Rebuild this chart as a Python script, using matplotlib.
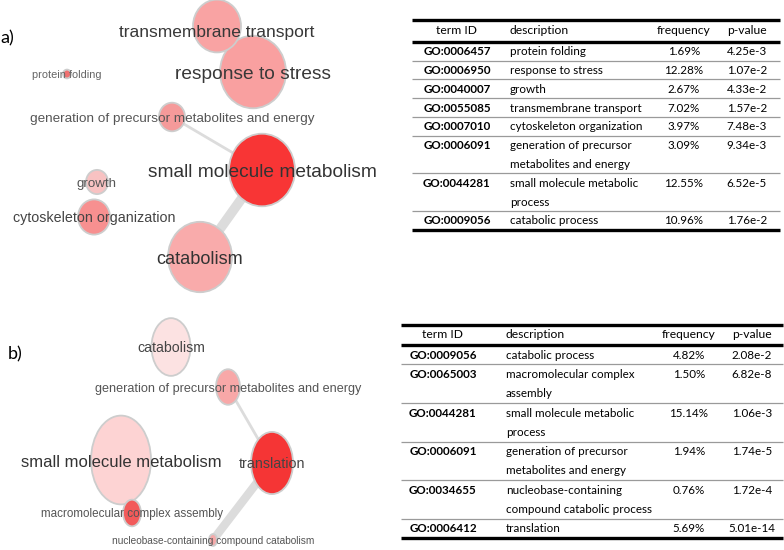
import matplotlib
matplotlib.use('Agg')
import matplotlib.pyplot as plt
from matplotlib.patches import Ellipse

W, H = 784, 550

# ---- panel a) bubble map (positions / radii, in px) ----
a_terms = ['transmembrane transport', 'response to stress', 'protein folding',
           'generation of precursor metabolites and energy',
           'small molecule metabolism', 'growth', 'cytoskeleton organization',
           'catabolism']
a_x = [217, 253, 67, 172, 262, 97, 94, 200]
a_y = [26, 72, 74, 117, 170, 182, 217, 257]
a_r = [24, 33, 4, 13, 33, 11, 16, 32]
a_links = [(0, 1), (3, 4), (4, 7)]

# ---- panel b) bubble map ----
b_terms = ['catabolism', 'generation of precursor metabolites and energy',
           'small molecule metabolism', 'translation',
           'macromolecular complex assembly',
           'nucleobase-containing compound catabolism']
b_x = [171, 228, 121, 272, 132, 213]
b_y = [37, 77, 150, 153, 203, 230]
b_r = [19.5, 12, 30, 21, 9, 4]
b_links = [(1, 3), (3, 5)]

# ---- tables ----
a_ids = ['GO:0006457', 'GO:0006950', 'GO:0040007', 'GO:0055085',
         'GO:0007010', 'GO:0006091', 'GO:0044281', 'GO:0009056']
a_desc = ['protein folding', 'response to stress', 'growth',
          'transmembrane transport', 'cytoskeleton organization',
          'generation of precursor\nmetabolites and energy',
          'small molecule metabolic\nprocess', 'catabolic process']
a_freq = ['1.69%', '12.28%', '2.67%', '7.02%', '3.97%', '3.09%', '12.55%', '10.96%']
a_pval = ['4.25e-3', '1.07e-2', '4.33e-2', '1.57e-2', '7.48e-3', '9.34e-3',
          '6.52e-5', '1.76e-2']

b_ids = ['GO:0009056', 'GO:0065003', 'GO:0044281', 'GO:0006091',
         'GO:0034655', 'GO:0006412']
b_desc = ['catabolic process', 'macromolecular complex\nassembly',
          'small molecule metabolic\nprocess',
          'generation of precursor\nmetabolites and energy',
          'nucleobase-containing\ncompound catabolic process', 'translation']
b_freq = ['4.82%', '1.50%', '15.14%', '1.94%', '0.76%', '5.69%']
b_pval = ['2.08e-2', '6.82e-8', '1.06e-3', '1.74e-5', '1.72e-4', '5.01e-14']

headers = ['term ID', 'description', 'frequency', 'p-value']

# styles
a_colors = ['#f9a3a3', '#f9a0a0', '#f07070', '#f59a9a', '#f83535', '#f8c2c2',
            '#f79090', '#f9abab']
a_fs = [12.5, 13.8, 7.9, 9.7, 13.8, 9.6, 10.3, 13.1]
a_tc = ['#383838', '#383838', '#666666', '#555555', '#333333', '#555555',
        '#444444', '#333333']
a_dy = [5, 0, 0, 0, 0, 0, 0, 0]   # label shift from bubble centre
a_lw = [5, 2, 7]

b_colors = ['#fce2e2', '#f8a8a8', '#fdd3d3', '#f53535', '#f25a5a', '#f5aaaa']
b_fs = [10.2, 9.1, 12.0, 10.3, 8.4, 7.3]
b_tc = ['#444444', '#555555', '#333333', '#444444', '#555555', '#555555']
b_dy = [0, 0, 1, 0, 0, 0]
b_lw = [2, 6]

BUB_FONT = 'Liberation Sans'
TAB_FONT = 'Lato'


def draw_bubbles(ax, x0, y0, stretch, terms, xs, ys, rs, links, colors, fss, tcs, dys, lws):
    '''
    bubbles of one REVIGO-like map, panel offset (x0, y0)
    '''
    for (i, j), lw in zip(links, lws):
        ax.plot([x0 + xs[i], x0 + xs[j]], [y0 + ys[i], y0 + ys[j]],
                color='#dcdcdc', lw=lw, zorder=1, solid_capstyle='butt')
    # biggest first so small ones stay on top
    order = sorted(range(len(terms)), key=lambda k: -rs[k])
    for k in order:
        ax.add_patch(Ellipse((x0 + xs[k], y0 + ys[k]), 2 * rs[k], 2 * rs[k] * stretch,
                             facecolor=colors[k], edgecolor='#cdcdcd', lw=1.3, zorder=2))
    for k in range(len(terms)):
        # centre the cap height on the bubble centre
        px = fss[k] * 100 / 72
        ax.text(x0 + xs[k], y0 + ys[k] + dys[k] + 0.36 * px, terms[k], ha='center',
                va='baseline', fontsize=fss[k], color=tcs[k], family=BUB_FONT, zorder=5)


def draw_table(ax, left, right, top, head_h, line_h, col_x, ids, desc, freq, pval):
    '''
    three-line style table with thin grey separators
    '''
    fs = 8.4
    ax.plot([left, right], [top, top], color='black', lw=2.4, solid_capstyle='butt')
    yh = top + head_h / 2
    for c, htxt in enumerate(headers):
        ax.text(col_x[c], yh, htxt, ha='left' if c == 1 else 'center', va='center',
                fontsize=fs + 0.3, family=TAB_FONT, color='black')
    y = top + head_h
    ax.plot([left, right], [y, y], color='black', lw=2.4, solid_capstyle='butt')
    for i in range(len(ids)):
        lines = desc[i].split('\n')
        yc = y + line_h / 2 + 0.5
        ax.text(col_x[0], yc, ids[i], ha='center', va='center', fontsize=fs,
                family=TAB_FONT, weight='bold', color='black')
        for n, ln in enumerate(lines):
            ax.text(col_x[1], yc + n * line_h, ln, ha='left', va='center', fontsize=fs,
                    family=TAB_FONT, color='black')
        ax.text(col_x[2], yc, freq[i], ha='center', va='center', fontsize=fs,
                family=TAB_FONT, color='black')
        ax.text(col_x[3], yc, pval[i], ha='center', va='center', fontsize=fs,
                family=TAB_FONT, color='black')
        y += len(lines) * line_h
        last = i == len(ids) - 1
        ax.plot([left, right], [y, y], color='black' if last else '#9a9a9a',
                lw=2.4 if last else 0.9, solid_capstyle='butt')


def main():
    fig = plt.figure(figsize=(W / 100, H / 100), dpi=100)
    ax = fig.add_axes([0, 0, 1, 1])
    ax.set_xlim(0, W)
    ax.set_ylim(H, 0)
    ax.axis('off')

    draw_bubbles(ax, 0, 0, 1.1, a_terms, a_x, a_y, a_r, a_links, a_colors,
                 a_fs, a_tc, a_dy, a_lw)
    draw_bubbles(ax, 0, 310, 1.48, b_terms, b_x, b_y, b_r, b_links, b_colors,
                 b_fs, b_tc, b_dy, b_lw)

    draw_table(ax, 412, 780, 20, 21.7, 18.8, [457, 510, 684, 747],
               a_ids, a_desc, a_freq, a_pval)
    draw_table(ax, 401, 783, 325, 20, 19.3, [443, 506, 689, 752],
               b_ids, b_desc, b_freq, b_pval)

    ax.text(0, 38, 'a)', ha='left', va='center', fontsize=13, family=TAB_FONT)
    ax.text(8, 354, 'b)', ha='left', va='center', fontsize=13, family=TAB_FONT)

    fig.savefig('out.png', dpi=100)


if __name__ == "__main__":
    main()
